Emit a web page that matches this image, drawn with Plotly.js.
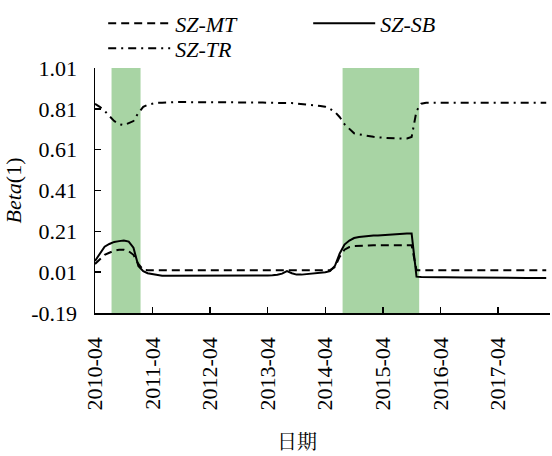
<!DOCTYPE html>
<html>
<head>
<meta charset="utf-8">
<script src="https://cdn.plot.ly/plotly-3.0.1.min.js"></script>
<style>html,body{margin:0;padding:0;background:#fff;}#chart{width:552px;height:456px;}</style>
</head>
<body>
<div id="chart"></div>
<script>
var months = [
"2010-04","2010-05","2010-06","2010-07","2010-08","2010-09","2010-10","2010-11","2010-12",
"2011-01","2011-02","2011-03","2011-04","2011-05","2011-06","2011-07","2011-08","2011-09","2011-10","2011-11","2011-12",
"2012-01","2012-02","2012-03","2012-04","2012-05","2012-06","2012-07","2012-08","2012-09","2012-10","2012-11","2012-12",
"2013-01","2013-02","2013-03","2013-04","2013-05","2013-06","2013-07","2013-08","2013-09","2013-10","2013-11","2013-12",
"2014-01","2014-02","2014-03","2014-04","2014-05","2014-06","2014-07","2014-08","2014-09","2014-10","2014-11","2014-12",
"2015-01","2015-02","2015-03","2015-04","2015-05","2015-06","2015-07","2015-08","2015-09","2015-10","2015-11","2015-12",
"2016-01","2016-02","2016-03","2016-04","2016-05","2016-06","2016-07","2016-08","2016-09","2016-10","2016-11","2016-12",
"2017-01","2017-02","2017-03","2017-04","2017-05","2017-06","2017-07","2017-08","2017-09","2017-10","2017-11","2017-12",
"2018-01","2018-02"];

var szMT = [
0.05,0.07,0.095,0.105,0.115,0.12,0.12,0.112,0.095,0.05,0.022,
0.02,0.02,0.02,0.02,0.02,0.02,0.02,0.02,0.02,0.02,0.02,0.02,0.02,0.02,0.02,0.02,0.02,0.02,0.02,0.02,
0.02,0.02,0.02,0.02,0.02,0.02,0.02,0.02,0.02,0.02,0.02,0.02,0.02,0.02,0.02,0.02,0.02,0.02,0.02,
0.035,0.085,0.12,0.133,0.138,0.14,0.141,0.141,0.142,0.142,0.142,0.142,0.142,0.142,0.142,0.142,0.142,
0.02,0.02,0.02,0.02,0.02,0.02,0.02,0.02,0.02,0.02,0.02,0.02,0.02,0.02,
0.02,0.02,0.02,0.02,0.02,0.02,0.02,0.02,0.02,0.02,0.02,0.02,0.02,0.02];

var szSB = [
0.065,0.10,0.135,0.148,0.158,0.162,0.165,0.16,0.13,0.04,0.015,0.005,0.0,-0.005,
-0.007,-0.008,-0.008,-0.009,-0.009,-0.009,-0.009,-0.009,-0.008,-0.008,-0.008,-0.008,-0.008,
-0.008,-0.008,-0.008,-0.008,-0.007,-0.007,-0.007,-0.007,-0.006,-0.006,-0.005,-0.003,
0.003,0.015,0.005,-0.002,-0.002,0.0,0.003,0.005,0.007,0.01,0.015,
0.04,0.10,0.145,0.165,0.177,0.182,0.185,0.187,0.189,0.19,0.192,0.194,0.196,0.198,0.2,0.2,0.2,
-0.012,-0.014,-0.015,-0.015,-0.015,-0.015,-0.015,-0.016,-0.016,-0.016,-0.016,-0.016,-0.016,-0.016,
-0.016,-0.017,-0.017,-0.017,-0.015,-0.016,-0.017,-0.018,-0.018,-0.018,-0.019,-0.019,-0.019,-0.019];

var szTR = [
0.835,0.82,0.80,0.775,0.75,0.735,0.73,0.74,0.75,0.79,0.82,0.83,0.835,
0.84,0.84,0.842,0.842,0.843,0.843,0.843,0.842,0.842,0.842,0.843,0.843,0.844,0.844,
0.844,0.843,0.843,0.842,0.842,0.842,0.842,0.841,0.841,0.84,0.84,0.84,0.839,0.839,
0.838,0.836,0.834,0.832,0.83,0.827,0.824,0.82,0.81,
0.795,0.77,0.735,0.71,0.69,0.685,0.68,0.676,0.673,0.67,0.668,0.667,0.666,0.665,0.664,0.665,0.672,
0.80,0.835,0.84,0.84,0.84,0.84,0.84,0.84,0.84,0.84,0.84,0.84,0.84,0.84,
0.84,0.84,0.84,0.84,0.84,0.84,0.84,0.84,0.84,0.84,0.84,0.84,0.84,0.84];

var bandStart = ["2010-07-15", "2014-07-20"];
var bandEnd   = ["2011-01-15", "2015-11-18"];

var xTickVals = ["2010-04-01","2011-04-01","2012-04-01","2013-04-01","2014-04-01","2015-04-01","2016-04-01","2017-04-01"];
var xTickText = ["2010-04","2011-04","2012-04","2013-04","2014-04","2015-04","2016-04","2017-04"];
var yTickVals = [-0.19, 0.01, 0.21, 0.41, 0.61, 0.81, 1.01];
var yTickText = ["-0.19","0.01","0.21","0.41","0.61","0.81","1.01"];

var serif = "Liberation Serif";

var traces = [
  {x: months, y: szMT, name: "<i>SZ-MT</i>", type: "scatter", mode: "lines", legend: "legend",
   line: {color: "#000", width: 2, dash: "8px,5px"}},
  {x: months, y: szSB, name: "<i>SZ-SB</i>", type: "scatter", mode: "lines", legend: "legend",
   line: {color: "#000", width: 2}},
  {x: months, y: szTR, name: "<i>SZ-TR</i>", type: "scatter", mode: "lines", legend: "legend2",
   line: {color: "#000", width: 2, dash: "8px,5px,2px,5px"}}
];

var shapes = bandStart.map(function(s, i){
  return {type: "rect", xref: "x", yref: "paper", x0: s, x1: bandEnd[i], y0: 0, y1: 1,
          fillcolor: "#a8d4a4", line: {width: 0}, layer: "below"};
});

var legendBase = {orientation: "h", xanchor: "left", yanchor: "middle",
  entrywidth: 128, entrywidthmode: "pixels", itemwidth: 62,
  font: {family: serif, size: 22, color: "#000"}, bgcolor: "rgba(0,0,0,0)", borderwidth: 0};

var layout = {
  width: 552, height: 456,
  margin: {l: 95, r: 2, t: 66, b: 143},
  paper_bgcolor: "#fff", plot_bgcolor: "#fff",
  font: {family: serif, size: 22, color: "#000"},
  showlegend: true,
  legend: Object.assign({}, legendBase, {x: 0.018, y: 1.182}),
  legend2: Object.assign({}, legendBase, {x: 0.018, y: 1.08}),
  xaxis: {type: "date", range: ["2010-04-01", "2018-02-25"],
          tickvals: xTickVals, ticktext: xTickText, tickangle: -90,
          ticks: "inside", ticklen: 6, tickwidth: 1.5, tickcolor: "#000",
          showline: true, linecolor: "#000", linewidth: 1.5, showgrid: false, zeroline: false,
          ticklabelstandoff: 14, tickfont: {family: serif, size: 22}},
  yaxis: {range: [-0.19, 1.01], tickvals: yTickVals, ticktext: yTickText,
          ticks: "inside", ticklen: 6, tickwidth: 1.5, tickcolor: "#000",
          showline: true, linecolor: "#000", linewidth: 1.5, showgrid: false, zeroline: false,
          ticklabelstandoff: 12, tickfont: {family: serif, size: 22},
          title: {text: "<i>Beta</i>(1)", font: {family: serif, size: 22}, standoff: 3}},
  shapes: shapes,
  annotations: [{text: "日期", xref: "paper", yref: "paper", x: 0.445, y: 0, yshift: -127,
                 xanchor: "center", yanchor: "middle", showarrow: false,
                 font: {family: "Noto Serif CJK SC", size: 20, color: "#000"}}]
};

Plotly.newPlot("chart", traces, layout, {displayModeBar: false, staticPlot: true});
</script>
</body>
</html>
